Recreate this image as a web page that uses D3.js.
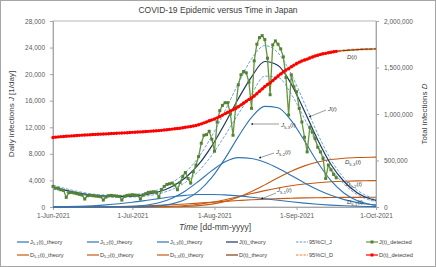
<!DOCTYPE html>
<html>
<head>
<meta charset="utf-8">
<script src="https://cdn.jsdelivr.net/npm/d3@7"></script>
<style>
body{margin:0;background:#fff;}
svg{font-family:"Liberation Sans",Arial,sans-serif;display:block;}
</style>
</head>
<body>
<div id="chart"></div>
<script>
// daily detected infections from 1-Jun-2021 (one value per day)
var jDetected = [3100,2850,2800,2600,2500,1450,2150,2200,2100,2000,1900,1800,1200,1700,1750,1700,1650,1600,1550,1050,
  1500,1700,1750,1700,1650,1600,1050,1600,1750,1800,1850,1800,1750,1200,1800,2000,2200,2250,2300,2200,
  1500,2600,3100,3400,3500,3600,3300,2600,3700,4600,5200,4300,3600,5300,6300,7600,9600,10800,10900,11400,
  10200,8400,12800,14500,15300,15700,15700,14000,10800,15000,18400,19900,20400,20200,18800,14850,22000,24500,25500,25800,
  25200,22400,16900,24400,25000,24500,23800,22600,19500,13850,19900,18100,17350,14850,12800,10500,8300,12000,11300,10300,
  9000,8300,7300,4300,6300,5600,4900,4400];

// total detected infections (right axis), same days
var dDetected = [748100,750950,753750,756350,758850,760300,762450,764650,766750,768750,770650,772450,773650,775350,777100,778800,780450,782050,783600,784650,
  786150,787850,789600,791300,792950,794550,795600,797200,798950,800750,802600,804400,806150,807350,809150,811150,813350,815600,817900,820100,
  821600,824200,827300,830700,834200,837800,841100,843700,847400,852000,857200,861500,865100,870400,876700,884300,893900,904700,915600,927000,
  937200,945600,958400,972900,988200,1003900,1019600,1033600,1044400,1059400,1077800,1097700,1118100,1138300,1157100,1171950,1193950,1218450,1243950,1269750,
  1294950,1317350,1334250,1358650,1383650,1408150,1431950,1454550,1474050,1487900,1507800,1525900,1543250,1558100,1570900,1581400,1589700,1601700,1613000,1623300,
  1632300,1640600,1647900,1652200,1658500,1664100,1669000,1673400];

// theory curves, sampled on these day offsets
var theoryDays = [0,5,10,15,20,25,30,35,40,45,50,55,60,65,70,75,80,85,90,95,100,105,110,115,120,122];
var j51Theory = [28,57,107,188,313,487,713,981,1267,1538,1754,1879,1893,1821,1676,1478,1248,1009,781,579,411,279,182,113,67,54];
var j52Theory = [0,0,0,2,10,34,102,273,642,1329,2418,3876,5471,6796,7431,7302,6733,5833,4745,3626,2604,1757,1113,662,370,288];
var j53Theory = [0,0,0,0,1,4,16,58,170,470,1120,2380,4450,7320,10600,13500,15150,14950,13000,9950,6690,3970,2070,950,385,260];
var jTheory = [3000,2500,2100,1800,1650,1600,1650,1850,2300,3100,4400,6400,9200,12600,16300,19600,21900,21300,18500,14400,10100,6400,3800,2100,1200,1000];
var jUpper = [3300,2750,2300,1950,1800,1750,1850,2100,2650,3650,5200,7500,10700,14500,18600,22300,24300,23200,20000,15600,11000,7100,4300,2500,1450,1200];
var jLower = [2700,2250,1900,1650,1500,1450,1500,1650,2000,2650,3700,5400,7800,10800,14000,17000,19700,19500,17000,13300,9200,5800,3400,1850,1000,850];
var d51Theory = [180,380,780,1500,2730,4710,7700,11910,17520,24570,32820,41950,51400,60750,69500,77400,84250,89900,94350,97750,100200,101900,103050,103800,104200,104350];
var d52Theory = [0,0,0,0,20,100,400,1200,3150,7450,15700,29800,50800,78600,111000,144300,176000,204300,228200,247000,260800,270700,277100,281100,283300,283900];
var d53Theory = [0,0,0,0,0,0,0,50,700,2200,5900,14400,31200,60700,105000,165700,237900,314000,384500,442200,483700,510000,524800,532000,535200,535900];
var dTheory = [748000,760000,771000,779000,786000,795000,803000,811000,822000,838000,857000,884000,932000,1000000,1078000,1175000,1292000,1405000,1505000,1580000,1632000,1664000,1683000,1693000,1698000,1700000];
var dUpper = [749000,761000,772000,780000,787500,796500,805000,813500,825000,842000,862000,891000,940000,1010000,1090000,1189000,1307000,1420000,1519000,1592000,1642000,1672000,1690000,1699000,1704000,1706000];
var dLower = [747000,759000,770000,778000,784500,793500,801000,808500,819000,834000,852000,877000,924000,990000,1066000,1161000,1277000,1390000,1491000,1568000,1622000,1656000,1676000,1687000,1692000,1694000];

var monthTicks = ["1-Jun-2021","1-Jul-2021","1-Aug-2021","1-Sep-2021","1-Oct-2021"];
var jTicks = [0,4000,8000,12000,16000,20000,24000,28000];
var dTicks = [0,500000,1000000,1500000,2000000];

var W = 436, H = 267;
var plot = {left: 53, right: 376, top: 21, bottom: 207};
var parseTick = d3.timeParse("%d-%b-%Y");
var start = parseTick(monthTicks[0]);
function dayDate(d) { return d3.timeDay.offset(start, d); }

var x = d3.scaleTime()
    .domain([start, parseTick(monthTicks[monthTicks.length - 1])])
    .range([plot.left, plot.right]);
var yJ = d3.scaleLinear().domain([0, 28000]).range([plot.bottom, plot.top]);
var yD = d3.scaleLinear().domain([0, 2000000]).range([plot.bottom, plot.top]);

var svg = d3.select("#chart").append("svg")
    .attr("width", W).attr("height", H);

svg.append("rect").attr("x", 0.5).attr("y", 0.5).attr("width", W - 1).attr("height", H - 1)
    .attr("fill", "#fff").attr("stroke", "#a6a6a6");

// text with _{sub} and *italic* parts
function rich(text, str, fs) {
    var parts = str.split(/(_\{[^}]*\}|\*[^*]*\*)/).filter(function(p) { return p.length; });
    var shift = 0;
    parts.forEach(function(p) {
        var t = text.append("tspan");
        if (p.indexOf("_{") === 0) {
            t.text(p.slice(2, -1)).attr("font-size", fs * 0.7).attr("dy", fs * 0.25 - shift);
            shift = fs * 0.25;
        } else {
            if (shift) { t.attr("dy", -shift); shift = 0; }
            if (p[0] === "*") t.text(p.slice(1, -1)).attr("font-style", "italic");
            else t.text(p);
        }
    });
}

// plot frame
svg.append("rect").attr("x", plot.left).attr("y", plot.top)
    .attr("width", plot.right - plot.left).attr("height", plot.bottom - plot.top)
    .attr("fill", "none").attr("stroke", "#a6a6a6").attr("stroke-width", 0.8);

// axes
function styleAxis(g) {
    g.selectAll(".domain").attr("stroke", "#a6a6a6");
    g.selectAll(".tick line").attr("stroke", "#a6a6a6");
    g.selectAll("text").attr("fill", "#595959").attr("font-size", 6.5)
        .attr("font-family", "Liberation Sans, Arial, sans-serif");
}
svg.append("g").attr("transform", "translate(" + plot.left + ",0)")
    .call(d3.axisLeft(yJ).tickValues(jTicks).tickFormat(d3.format(",")).tickSize(3).tickPadding(5))
    .call(styleAxis);
svg.append("g").attr("transform", "translate(" + plot.right + ",0)")
    .call(d3.axisRight(yD).tickValues(dTicks).tickFormat(d3.format(",")).tickSize(3).tickPadding(5))
    .call(styleAxis);
svg.append("g").attr("transform", "translate(0," + plot.bottom + ")")
    .call(d3.axisBottom(x).tickValues(monthTicks.map(parseTick))
        .tickFormat(d3.timeFormat("%-d-%b-%Y")).tickSize(3).tickPadding(3))
    .call(styleAxis);

// titles
svg.append("text").attr("x", 218).attr("y", 13).attr("text-anchor", "middle")
    .attr("font-size", 8.5).attr("fill", "#404040").text("COVID-19 Epidemic versus Time in Japan");
var xt = svg.append("text").attr("x", 215).attr("y", 230).attr("text-anchor", "middle")
    .attr("font-size", 8.5).attr("fill", "#404040");
rich(xt, "*Time* [dd-mm-yyyy]", 8.5);
var ylt = svg.append("text").attr("transform", "translate(14,114) rotate(-90)").attr("text-anchor", "middle")
    .attr("font-size", 8).attr("fill", "#404040");
rich(ylt, "Daily infections *J* [1/day]", 8);
var yrt = svg.append("text").attr("transform", "translate(427,114) rotate(-90)").attr("text-anchor", "middle")
    .attr("font-size", 8).attr("fill", "#404040");
rich(yrt, "Total infections *D*", 8);

// series
var lineJ = function(vals) {
    return d3.line().x(function(d, i) { return x(dayDate(theoryDays[i])); })
        .y(function(d) { return yJ(d); }).curve(d3.curveMonotoneX)(vals);
};
var lineD = function(vals) {
    return d3.line().x(function(d, i) { return x(dayDate(theoryDays[i])); })
        .y(function(d) { return yD(d); }).curve(d3.curveMonotoneX)(vals);
};

var g = svg.append("g");
var blue = "#2e75b6", orange = "#c55a11";
[d51Theory, d52Theory, d53Theory].forEach(function(v) {
    g.append("path").attr("d", lineD(v)).attr("fill", "none").attr("stroke", orange).attr("stroke-width", 1.1);
});
[j51Theory, j52Theory, j53Theory].forEach(function(v) {
    g.append("path").attr("d", lineJ(v)).attr("fill", "none").attr("stroke", blue).attr("stroke-width", 1.1);
});
[jUpper, jLower].forEach(function(v) {
    g.append("path").attr("d", lineJ(v)).attr("fill", "none").attr("stroke", "#5b9bd5")
        .attr("stroke-width", 0.9).attr("stroke-dasharray", "3,1.5");
});
g.append("path").attr("d", lineJ(jTheory)).attr("fill", "none").attr("stroke", "#203864").attr("stroke-width", 1.2);

// detected J
var jLine = d3.line().x(function(d, i) { return x(dayDate(i)); }).y(function(d) { return yJ(d); });
g.append("path").attr("d", jLine(jDetected)).attr("fill", "none").attr("stroke", "#64963c").attr("stroke-width", 1.3);
g.selectAll(".jpt").data(jDetected).enter().append("rect").attr("class", "jpt")
    .attr("x", function(d, i) { return x(dayDate(i)) - 1.5; })
    .attr("y", function(d) { return yJ(d) - 1.5; })
    .attr("width", 3).attr("height", 3).attr("fill", "#548235");

// D theory and CI
[dUpper, dLower].forEach(function(v) {
    g.append("path").attr("d", lineD(v)).attr("fill", "none").attr("stroke", "#ed7d31")
        .attr("stroke-width", 0.9).attr("stroke-dasharray", "3,1.5");
});
g.append("path").attr("d", lineD(dTheory)).attr("fill", "none").attr("stroke", "#843c0c").attr("stroke-width", 1.2);

// detected D
var dLine = d3.line().x(function(d, i) { return x(dayDate(i)); }).y(function(d) { return yD(d); });
g.append("path").attr("d", dLine(dDetected)).attr("fill", "none").attr("stroke", "#ff0000").attr("stroke-width", 1.5);
g.selectAll(".dpt").data(dDetected).enter().append("circle").attr("class", "dpt")
    .attr("cx", function(d, i) { return x(dayDate(i)); })
    .attr("cy", function(d) { return yD(d); })
    .attr("r", 1.7).attr("fill", "#ff0000");

// annotations
svg.append("defs").append("marker").attr("id", "ah").attr("viewBox", "0 0 10 10")
    .attr("refX", 9).attr("refY", 5).attr("markerWidth", 4).attr("markerHeight", 4).attr("orient", "auto")
    .append("path").attr("d", "M0,0L10,5L0,10z").attr("fill", "#222");
var notes = [
    {t: "*D*(*t*)", x: 347, y: 59, ax: null},
    {t: "*J*(*t*)", x: 328, y: 111, ax: [326, 110, 309, 117]},
    {t: "*J*_{5-3}(*t*)", x: 281, y: 127, ax: [279, 124, 251, 124]},
    {t: "*J*_{5-2}(*t*)", x: 276, y: 154, ax: [274, 153, 259, 158]},
    {t: "*J*_{5-1}(*t*)", x: 277, y: 192, ax: [276, 193, 261, 199]},
    {t: "*D*_{5-3}(*t*)", x: 345, y: 164, ax: null},
    {t: "*D*_{5-2}(*t*)", x: 346, y: 186, ax: null},
    {t: "*D*_{5-1}(*t*)", x: 347, y: 204, ax: null}
];
notes.forEach(function(n) {
    if (n.ax) {
        svg.append("line").attr("x1", n.ax[0]).attr("y1", n.ax[1]).attr("x2", n.ax[2]).attr("y2", n.ax[3])
            .attr("stroke", "#595959").attr("stroke-width", 0.6).attr("marker-end", "url(#ah)");
    }
    var t = svg.append("text").attr("x", n.x).attr("y", n.y).attr("font-size", 6).attr("fill", "#404040");
    rich(t, n.t, 6);
});

// legend
var legendItems = [
    {t: "J_{5-1}(t)_theory", c: blue}, {t: "J_{5-2}(t)_theory", c: blue}, {t: "J_{5-3}(t)_theory", c: blue},
    {t: "J(t)_theory", c: "#203864"}, {t: "95%CI_J", c: "#5b9bd5", dash: true}, {t: "J(t)_detected", c: "#64963c", mark: "#548235"},
    {t: "D_{5-1}(t)_theory", c: orange}, {t: "D_{5-2}(t)_theory", c: orange}, {t: "D_{5-3}(t)_theory", c: orange},
    {t: "D(t)_theory", c: "#843c0c"}, {t: "95%CI_D", c: "#ed7d31", dash: true}, {t: "D(t)_detected", c: "#ff0000", mark: "#ff0000"}
];
var legX = [17, 87, 157, 226, 296, 366], legY = [242, 255];
legendItems.forEach(function(it, i) {
    var lx = legX[i % 6], ly = legY[Math.floor(i / 6)];
    svg.append("line").attr("x1", lx).attr("x2", lx + 12).attr("y1", ly).attr("y2", ly)
        .attr("stroke", it.c).attr("stroke-width", 1.2).attr("stroke-dasharray", it.dash ? "2.5,1.2" : null);
    if (it.mark) svg.append("rect").attr("x", lx + 4.5).attr("y", ly - 1.5).attr("width", 3).attr("height", 3).attr("fill", it.mark);
    var t = svg.append("text").attr("x", lx + 13).attr("y", ly + 2).attr("font-size", 5.6).attr("fill", "#404040");
    rich(t, it.t, 5.6);
});
</script>
</body>
</html>
